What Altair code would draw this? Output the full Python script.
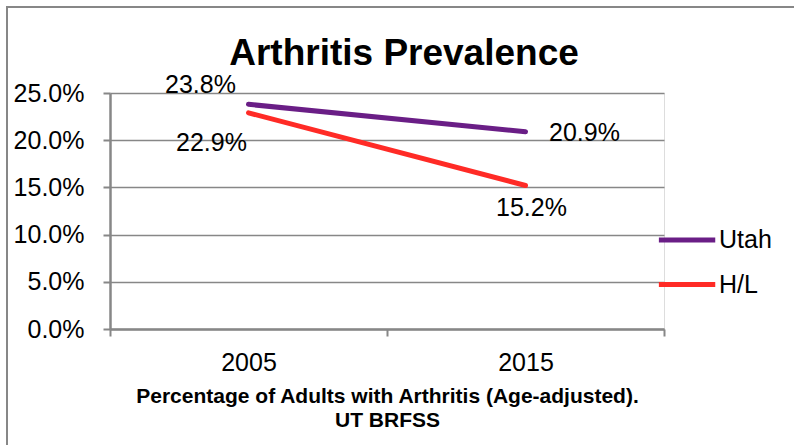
import altair as alt
import pandas as pd

# Values shown on the chart
years = ["2005", "2015"]
series = ["Utah", "H/L"]
utah = [0.238, 0.209]
hl = [0.229, 0.152]
y_ticks = [0.0, 0.05, 0.10, 0.15, 0.20, 0.25]
colors = ["#6A1E86", "#FF2B26"]

rows = []
for name, vals in zip(series, [utah, hl]):
    for yr, v in zip(years, vals):
        rows.append({"series": name, "year": yr, "value": v})
df = pd.DataFrame(rows)

FONT = "Liberation Sans"
GRAY = "#878787"

x_enc = alt.X(
    "year:N",
    bandPosition=0.5,
    scale=alt.Scale(type="band", paddingInner=0, paddingOuter=0),
    axis=alt.Axis(
        tickBand="extent",
        labelAngle=0,
        labelFontSize=25,
        labelColor="black",
        labelFont=FONT,
        labelPadding=14,
        tickSize=7,
        tickWidth=2,
        tickColor=GRAY,
        domainColor=GRAY,
        domainWidth=2.5,
        grid=False,
        title=["Percentage of Adults with Arthritis (Age-adjusted).", "UT BRFSS"],
        titleFont=FONT,
        titleFontSize=21,
        titleFontWeight="bold",
        titleColor="black",
        titleLineHeight=24,
        titlePadding=10,
    ),
)

y_enc = alt.Y(
    "value:Q",
    scale=alt.Scale(domain=[0, 0.25], nice=False),
    axis=alt.Axis(
        values=y_ticks,
        format=".1%",
        labelFontSize=25,
        labelColor="black",
        labelFont=FONT,
        labelPadding=19,
        tickSize=7,
        tickWidth=2,
        tickColor=GRAY,
        domainColor=GRAY,
        domainWidth=2.5,
        grid=True,
        gridColor=GRAY,
        gridWidth=1.6,
        title=None,
    ),
)

color_enc = alt.Color(
    "series:N",
    scale=alt.Scale(domain=series, range=colors),
    legend=alt.Legend(
        orient="none",
        legendX=575,
        legendY=130.5,
        title=None,
        padding=0,
        symbolType="M-3.1,0L1,0",
        symbolSize=756,
        symbolStrokeWidth=5,
        labelFont=FONT,
        labelFontSize=25,
        labelColor="black",
        labelOffset=1,
        rowPadding=14.5,
    ),
)

base = alt.Chart(df)

lines = base.mark_line(strokeWidth=5, strokeCap="round").encode(
    x=x_enc, y=y_enc, color=color_enc
)

# value labels, each nudged off its point
label_offsets = {
    ("Utah", "2005"): (-48, -19),
    ("H/L", "2005"): (-37, 30),
    ("Utah", "2015"): (59, 1),
    ("H/L", "2015"): (6, 22),
}
labels = []
for (name, yr), (dx, dy) in label_offsets.items():
    labels.append(
        base.transform_filter(
            (alt.datum.series == name) & (alt.datum.year == yr)
        )
        .mark_text(font=FONT, fontSize=25, color="black", dx=dx, dy=dy)
        .encode(
            x=alt.X("year:N", bandPosition=0.5),
            y="value:Q",
            text=alt.Text("value:Q", format=".1%"),
        )
    )

# outer frame of the chart
frame = (
    alt.Chart(alt.Data(values=[{"f": 1}]))
    .mark_rect(fillOpacity=0, stroke=GRAY, strokeWidth=2)
    .encode(
        x=alt.value(-103),
        y=alt.value(-86),
        x2=alt.value(800),
        y2=alt.value(500),
    )
)

chart = (
    alt.layer(frame, lines, *labels)
    .properties(
        width=554,
        height=236,
        padding={"left": 110, "top": 93, "right": 130, "bottom": 116},
        autosize=alt.AutoSizeParams(type="none"),
        title=alt.TitleParams(
            "Arthritis Prevalence",
            font=FONT,
            fontSize=37,
            fontWeight="bold",
            color="black",
            anchor="middle",
            frame="group",
            baseline="alphabetic",
            dx=17,
            dy=124,
            offset=28,
        ),
    )
    .configure_view(stroke=None)
    .configure(background="white")
)

chart.save("out.html", embed_options={"renderer": "svg", "actions": False})
